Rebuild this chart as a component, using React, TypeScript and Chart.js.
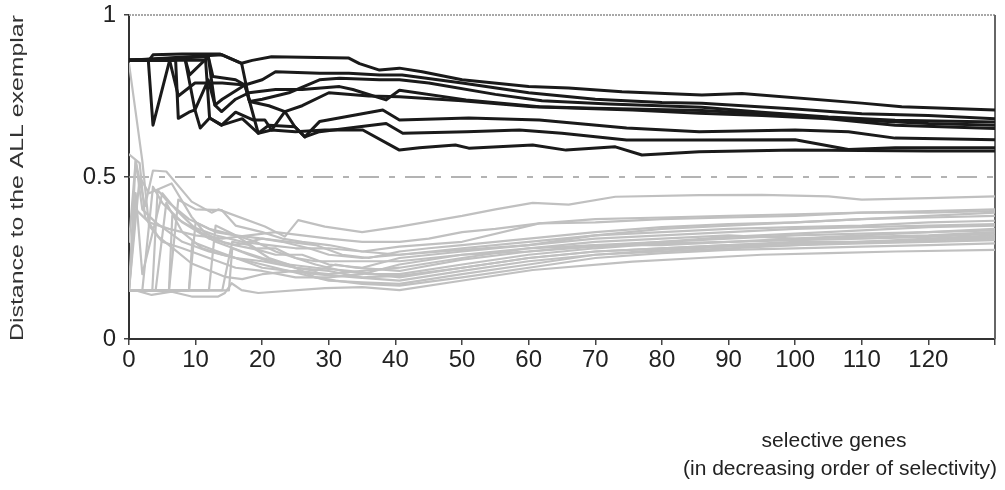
import React, { useEffect, useRef } from "react";
import { Chart, registerables } from "chart.js";

Chart.register(...registerables);

// ---------- text ----------
const Y_TITLE = "Distance to the ALL exemplar";
const X_TITLE_1 = "selective genes";
const X_TITLE_2 = "(in decreasing order of selectivity)";

// ---------- axes ----------
const X_MIN = 0;
const X_MAX = 130;
const X_STEP = 10;
const X_LAST_LABEL = 120;
const Y_TICKS = [0, 0.5, 1];
const THRESHOLD = 0.5;

// ---------- black series (ALL samples) : [gene count, distance] ----------
const B1 = [[0,.86],[3,.86],[3.6,.877],[8,.88],[13.6,.88],[16.9,.851],[18.5,.86],[21.4,.871],[33,.867],[34.6,.85],[37.6,.83],[40.6,.836],[44,.825],[50,.80],[60,.779],[66,.775],[74,.763],[86,.753],[92,.758],[110,.728],[116,.717],[130,.707]];
const B2 = [[0,.86],[2.9,.86],[3.6,.66],[6.1,.86],[8.4,.866],[9.1,.815],[11.9,.871],[12.6,.81],[16,.80],[17.4,.784],[20,.80],[22,.825],[28.6,.82],[33,.82],[37.6,.815],[41,.815],[50,.79],[60,.76],[70,.74],[80,.73],[86,.728],[100,.71],[110,.695],[120,.69],[130,.68]];
const B3 = [[0,.86],[6.1,.86],[7.4,.75],[9.9,.79],[14,.79],[17.4,.784],[18.1,.733],[20,.74],[24,.76],[28.6,.80],[31.6,.805],[37.6,.80],[40.6,.80],[45,.79],[55,.755],[62,.735],[72,.725],[86,.715],[95,.70],[105,.685],[115,.675],[130,.67]];
const B4 = [[0,.86],[8.4,.866],[9.9,.707],[11.9,.80],[12.9,.722],[13.9,.702],[16,.74],[18,.76],[22,.77],[26,.77],[31.6,.779],[33.6,.77],[38.6,.738],[40.6,.768],[50.6,.738],[61.6,.717],[70,.712],[86,.705],[100,.69],[110,.675],[120,.665],[130,.66]];
const B5 = [[0,.86],[11.9,.871],[12.9,.722],[14,.74],[17.4,.784],[18.1,.733],[21,.72],[23.4,.702],[26,.72],[30,.76],[36,.75],[40.6,.748],[50,.735],[60.6,.717],[75.6,.707],[85.6,.697],[95,.69],[105,.68],[115,.66],[130,.65]];
const B6 = [[0,.86],[7,.86],[7.4,.681],[9,.70],[9.9,.707],[10.7,.651],[12.1,.682],[13.9,.66],[16,.70],[18.6,.676],[20.4,.676],[21.4,.645],[23.4,.702],[24.9,.655],[26.4,.624],[28.6,.671],[38.1,.707],[40.6,.676],[51,.682],[61.6,.676],[74.7,.651],[85.6,.64],[100,.645],[108,.64],[115,.62],[130,.615]];
const B7 = [[0,.86],[11.5,.86],[12.1,.682],[13.9,.66],[17,.68],[19.4,.635],[21,.66],[24.9,.655],[26.4,.624],[28.6,.64],[34.6,.655],[38.6,.665],[41.1,.635],[50.7,.64],[58.6,.645],[65,.635],[74.7,.614],[85.6,.614],[100,.615],[108,.585],[115,.59],[130,.59]];
const B8 = [[0,.86],[14,.877],[16.9,.851],[18.1,.733],[19.4,.635],[21.4,.645],[25,.64],[29.4,.645],[35.1,.645],[40.6,.583],[43.6,.59],[49,.599],[51,.589],[60.6,.599],[65.6,.583],[73,.593],[77,.568],[85.6,.578],[100,.583],[120,.58],[130,.58]];
const BLACK_SERIES = [B1, B2, B3, B4, B5, B6, B7, B8];

// ---------- grey series (AML samples) ----------
const G1 = [[0,.15],[1,.55],[2.4,.41],[3.6,.52],[5.6,.517],[9.4,.424],[12.4,.39],[13.4,.40],[20.4,.347],[23.4,.316],[25.4,.367],[29.4,.347],[35,.33],[40.6,.347],[50,.38],[55,.40],[60.6,.42],[66,.415],[73,.439],[85.6,.444],[95,.445],[105,.44],[110,.43],[120,.435],[130,.44]];
const G2 = [[0,.57],[1.6,.543],[2.4,.377],[4.4,.316],[6.9,.275],[9.4,.233],[14.4,.192],[17,.185],[20,.20],[25,.21],[30,.20],[35,.21],[40.6,.22],[50,.25],[60,.28],[70,.30],[80,.31],[90,.32],[100,.31],[110,.32],[120,.33],[130,.335]];
const G3 = [[0,.15],[1.6,.50],[3,.45],[6.4,.48],[9.4,.377],[11.4,.327],[14.4,.296],[19.4,.275],[22,.26],[26,.26],[30,.23],[35,.22],[40.6,.25],[50,.27],[60,.29],[70,.32],[80,.34],[90,.35],[100,.36],[110,.37],[120,.375],[130,.38]];
const G4 = [[0,.15],[0.9,.151],[3.4,.136],[6.4,.146],[9.4,.131],[13.4,.131],[14.4,.142],[15.4,.172],[16.9,.151],[19.4,.142],[29.4,.157],[35,.16],[40.6,.151],[50.6,.182],[60.6,.213],[75.6,.239],[85.6,.25],[95,.26],[105,.265],[115,.27],[130,.275]];
const G5 = [[0,.15],[1,.45],[2,.20],[5,.45],[7,.40],[10,.34],[13,.30],[17,.27],[20,.25],[24,.23],[28,.22],[33,.21],[40.6,.19],[50,.22],[60,.25],[70,.27],[80,.28],[90,.29],[100,.30],[110,.30],[120,.31],[130,.32]];
const G6 = [[0,.15],[2,.15],[3.6,.47],[5,.42],[8,.36],[12,.31],[16,.29],[20,.31],[23,.30],[27,.28],[30,.26],[35,.25],[40.6,.26],[50,.28],[60,.30],[70,.32],[80,.33],[90,.34],[100,.345],[110,.35],[120,.36],[130,.365]];
const G7 = [[0,.15],[4,.15],[5.6,.42],[8,.33],[11,.28],[14,.26],[18,.24],[22,.22],[26,.20],[30,.18],[35,.175],[40.6,.17],[50,.20],[60,.23],[70,.26],[80,.27],[90,.28],[100,.29],[110,.295],[120,.30],[130,.305]];
const G8 = [[0,.15],[6,.15],[7.4,.43],[10,.40],[13.9,.398],[16,.35],[20,.33],[23,.31],[26,.30],[30,.29],[35,.27],[40.6,.285],[50,.30],[61.6,.357],[70,.36],[80,.37],[90,.375],[100,.38],[110,.39],[120,.395],[130,.40]];
const G9 = [[0,.15],[9,.15],[10,.36],[13,.33],[16,.32],[19,.28],[22,.28],[25,.25],[28,.24],[32,.24],[36,.24],[40.6,.24],[50,.26],[60,.28],[70,.29],[80,.30],[90,.31],[100,.32],[110,.325],[120,.33],[130,.34]];
const G10 = [[0,.15],[12,.15],[13,.35],[16,.32],[19,.30],[22,.27],[25,.25],[28,.23],[32,.21],[36,.20],[40.6,.20],[50,.23],[60,.26],[70,.28],[80,.295],[90,.30],[100,.305],[110,.31],[120,.315],[130,.325]];
const G11 = [[0,.15],[14,.15],[15.5,.30],[18,.29],[21,.25],[24,.23],[28,.19],[31,.18],[35,.17],[40.6,.165],[50,.19],[60,.22],[70,.25],[80,.265],[90,.275],[100,.28],[110,.285],[120,.29],[130,.295]];
const G12 = [[0,.15],[15,.15],[15.5,.28],[18,.26],[21,.24],[25,.22],[28,.21],[31,.23],[34,.22],[40.6,.21],[50,.245],[60,.27],[70,.285],[80,.30],[90,.315],[100,.325],[110,.335],[120,.345],[130,.35]];
const G13 = [[0,.15],[3.5,.15],[4.3,.46],[6,.42],[9,.37],[12,.34],[16,.32],[20,.31],[24,.30],[28,.29],[32,.26],[36,.25],[40.6,.27],[45,.28],[50,.29],[60,.31],[70,.33],[80,.345],[90,.355],[100,.36],[110,.37],[120,.38],[130,.39]];
const G14 = [[0,.15],[9,.15],[9.5,.30],[12,.28],[16,.25],[20,.22],[24,.21],[28,.20],[34,.19],[40.6,.18],[50,.21],[60,.24],[70,.26],[80,.275],[90,.285],[100,.29],[110,.30],[120,.305],[130,.31]];
const G15 = [[0,.85],[1,.70],[2,.55],[3,.35],[5,.30],[8,.28],[12,.25],[16,.22],[20,.21],[25,.19],[30,.19],[35,.20],[40.6,.23],[50,.26],[60,.27],[70,.29],[80,.29],[90,.30],[100,.31],[110,.315],[120,.32],[130,.33]];
const G16 = [[0,.15],[6,.15],[6.5,.38],[9,.35],[13,.32],[17,.30],[21,.29],[25,.28],[30,.28],[35,.27],[40.6,.26],[50,.275],[60,.29],[70,.31],[80,.32],[90,.33],[100,.34],[110,.345],[120,.35],[130,.355]];
const G17 = [[0,.30],[1,.55],[2,.40],[4,.36],[8,.30],[12,.27],[16,.25],[20,.24],[25,.22],[30,.21],[35,.19],[40.6,.195],[50,.22],[60,.25],[70,.27],[80,.28],[90,.29],[100,.295],[110,.30],[120,.305],[130,.315]];
const G18 = [[0,.15],[1,.40],[3,.36],[6,.34],[10,.32],[14,.31],[18,.32],[22,.33],[26,.32],[30,.31],[35,.30],[40.6,.30],[45,.31],[50,.33],[55,.34],[61.6,.357],[70,.37],[80,.375],[90,.38],[100,.385],[110,.39],[120,.39],[130,.395]];
const GREY_SERIES = [G1, G2, G3, G4, G5, G6, G7, G8, G9, G10, G11, G12, G13, G14, G15, G16, G17, G18];

const FONT = '"Liberation Sans", Arial, Helvetica, sans-serif';
const TEXT_COLOR = "#222";

const decorPlugin = {
  id: "decor",
  beforeDatasetsDraw(chart: any) {
    const { ctx, chartArea, scales } = chart;
    const { left, right, top, bottom } = chartArea;
    const yy = scales.y.getPixelForValue(THRESHOLD);
    ctx.save();
    // threshold dash-dot line
    ctx.strokeStyle = "#9a9a9a";
    ctx.lineWidth = 1.5;
    ctx.setLineDash([20, 10, 6, 10]);
    ctx.beginPath();
    ctx.moveTo(left, yy);
    ctx.lineTo(right, yy);
    ctx.stroke();
    // top dotted frame
    ctx.strokeStyle = "#a8a8a8";
    ctx.lineWidth = 2;
    ctx.setLineDash([2, 1]);
    ctx.beginPath();
    ctx.moveTo(left, top);
    ctx.lineTo(right, top);
    ctx.stroke();
    // right frame
    ctx.setLineDash([]);
    ctx.strokeStyle = "#666";
    ctx.lineWidth = 2;
    ctx.beginPath();
    ctx.moveTo(right, top);
    ctx.lineTo(right, bottom);
    ctx.stroke();
    ctx.restore();
  },
  afterDraw(chart: any) {
    const { ctx } = chart;
    ctx.save();
    ctx.fillStyle = "#333";
    // y title (stretched along its length, as in the scanned original)
    ctx.translate(18, 178);
    ctx.rotate(-Math.PI / 2);
    ctx.scale(1.38, 1);
    ctx.font = `18px ${FONT}`;
    ctx.textAlign = "center";
    ctx.textBaseline = "middle";
    ctx.fillText(Y_TITLE, 0, 0);
    ctx.restore();
    ctx.save();
    ctx.fillStyle = TEXT_COLOR;
    ctx.font = `21px ${FONT}`;
    ctx.textAlign = "center";
    ctx.textBaseline = "middle";
    ctx.fillText(X_TITLE_1, 834, 441);
    ctx.fillText(X_TITLE_2, 840, 469);
    ctx.restore();
  },
};

export default function App() {
  const ref = useRef<HTMLCanvasElement | null>(null);
  useEffect(() => {
    if (!ref.current) return;
    const toPts = (s: number[][]) => s.map(([x, y]) => ({ x, y }));
    const datasets: any[] = [
      ...BLACK_SERIES.map((s, i) => ({
        label: `ALL ${i + 1}`,
        data: toPts(s),
        borderColor: "#1a1a1a",
        borderWidth: 3,
      })),
      ...GREY_SERIES.map((s, i) => ({
        label: `AML ${i + 1}`,
        data: toPts(s),
        borderColor: "#c0c0c0",
        borderWidth: 2.2,
      })),
    ];
    const chart = new Chart(ref.current, {
      type: "line",
      data: { datasets },
      options: {
        animation: false,
        responsive: false,
        devicePixelRatio: 1,
        layout: { padding: { top: 15, right: 10, left: 0, bottom: 0 } },
        plugins: { legend: { display: false }, tooltip: { enabled: false } },
        elements: {
          point: { radius: 0 },
          line: { tension: 0, borderJoinStyle: "round", borderCapStyle: "round" },
        },
        scales: {
          x: {
            type: "linear",
            min: X_MIN,
            max: X_MAX,
            afterFit: (s: any) => {
              s.height = 151;
              s.paddingLeft = 0;
              s.paddingRight = 0;
            },
            afterBuildTicks: (s: any) => {
              const t = [];
              for (let v = X_MIN; v <= X_MAX; v += X_STEP) t.push({ value: v });
              s.ticks = t;
            },
            ticks: {
              autoSkip: false,
              maxRotation: 0,
              padding: 1,
              color: TEXT_COLOR,
              font: { family: FONT, size: 24 },
              callback: (v: any) => (Number(v) > X_LAST_LABEL ? "" : String(v)),
            },
            grid: { drawOnChartArea: false, drawTicks: true, tickLength: 6, color: "#444", lineWidth: 1.5 },
            border: { display: true, color: "#333", width: 2 },
          },
          y: {
            min: 0,
            max: 1,
            afterFit: (s: any) => {
              s.width = 129;
              s.paddingTop = 0;
              s.paddingBottom = 0;
            },
            afterBuildTicks: (s: any) => {
              s.ticks = Y_TICKS.map((v) => ({ value: v }));
            },
            ticks: {
              padding: 8,
              color: TEXT_COLOR,
              font: { family: FONT, size: 24 },
              callback: (v: any) => String(v),
            },
            grid: { drawOnChartArea: false, drawTicks: true, tickLength: 5, color: "#444", lineWidth: 1.5 },
            border: { display: true, color: "#333", width: 2 },
          },
        },
      },
      plugins: [decorPlugin],
    } as any);
    return () => chart.destroy();
  }, []);
  return (
    <div style={{ position: "absolute", left: 0, top: 0, width: 1005, height: 490, background: "#fff" }}>
      <canvas ref={ref} width={1005} height={490} style={{ display: "block", width: 1005, height: 490 }} />
    </div>
  );
}
